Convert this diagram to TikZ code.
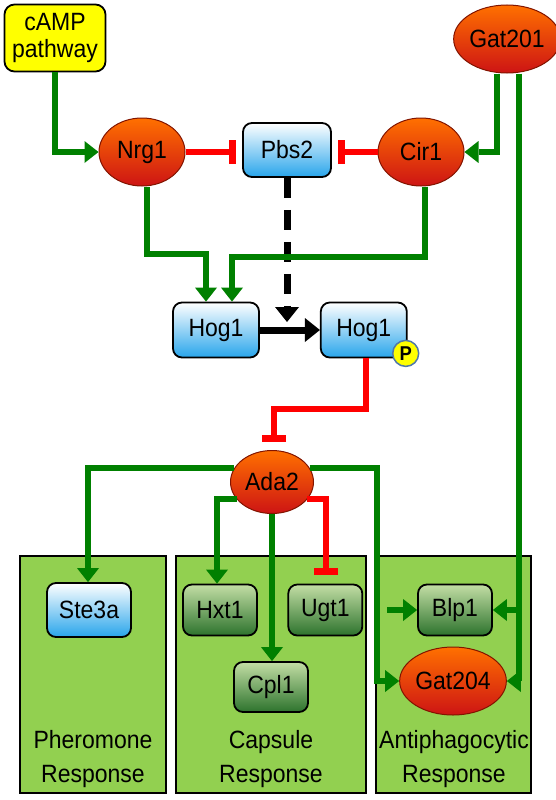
\documentclass[tikz,border=0pt]{standalone}
\usepackage{fontspec}
\setmainfont{Liberation Sans}[FakeStretch=0.92]
\usepackage{tikz}
\usetikzlibrary{shapes,arrows.meta,positioning,calc}
\newcommand{\lbl}{\fontsize{25}{27}\selectfont}
\definecolor{actgreen}{RGB}{0,128,0}
\definecolor{inhred}{RGB}{255,0,0}
\definecolor{ovaltop}{RGB}{255,112,0}
\definecolor{ovalbot}{RGB}{205,20,20}
\definecolor{ovalline}{RGB}{130,20,0}
\definecolor{kinbot}{RGB}{40,165,235}
\definecolor{genetop}{RGB}{195,222,165}
\definecolor{genebot}{RGB}{45,115,45}
\definecolor{panelgreen}{RGB}{146,208,80}
\definecolor{pblue}{RGB}{80,120,170}
\definecolor{campyellow}{RGB}{255,255,0}
\tikzstyle{factor} = [ellipse, draw=ovalline, line width=1pt, top color=ovaltop, bottom color=ovalbot, minimum width=86pt, minimum height=68pt, inner sep=0pt, font=\lbl]
\tikzstyle{kinase} = [rectangle, rounded corners=9pt, draw=black, line width=1.8pt, top color=white, bottom color=kinbot, minimum width=86pt, minimum height=55pt, inner sep=0pt, font=\lbl]
\tikzstyle{gene} = [rectangle, rounded corners=9pt, draw=black, line width=1.8pt, top color=genetop, bottom color=genebot, minimum width=74pt, minimum height=51pt, inner sep=0pt, font=\lbl]
\tikzstyle{signal} = [rectangle, rounded corners=10pt, draw=black, line width=1.8pt, fill=campyellow, minimum width=101pt, minimum height=67pt, inner sep=0pt, align=center, font=\lbl]
\tikzstyle{pmark} = [circle, draw=pblue, line width=1.5pt, fill=campyellow, minimum size=26pt, inner sep=0pt, font=\fontsize{20}{20}\selectfont\bfseries]
\tikzstyle{panel} = [rectangle, draw=black, line width=1.5pt, fill=panelgreen]
\tikzstyle{textonly} = [draw=none, fill=none, inner sep=0pt, font=\lbl]
\tikzstyle{act} = [draw=actgreen, line width=6pt, -{Triangle[length=14pt, width=22pt, line width=0pt]}]
\tikzstyle{inh} = [draw=inhred, line width=6pt, -{Bar[width=24pt, line width=7pt]}]
\tikzstyle{phos} = [draw=black, line width=7pt, -{Triangle[length=15pt, width=24pt, line width=0pt]}]

\begin{document}
\begin{tikzpicture}[x=1pt, y=-1pt]
\useasboundingbox (0,0) rectangle (556,800);

% response panels ==========================
\node[panel, minimum width=146pt, minimum height=237pt] (pherbox) at (93,674.5) {};
\node[panel, minimum width=190pt, minimum height=237pt] (capbox) at (271,674.5) {};
\node[panel, minimum width=155pt, minimum height=237pt] (antibox) at (453.5,674.5) {};

\node[textonly, anchor=base] (pher1) at (93,748) {Pheromone};
\node[textonly, anchor=base] (pher2) at ([yshift=-34pt]pher1.base) {Response};
\node[textonly, anchor=base] (cap1) at (271,748) {Capsule};
\node[textonly, anchor=base] (cap2) at ([yshift=-34pt]cap1.base) {Response};
\node[textonly, anchor=base] (anti1) at (454,748) {Antiphagocytic};
\node[textonly, anchor=base] (anti2) at ([yshift=-34pt]anti1.base) {Response};

% upstream nodes ===========================
\node[signal] (cAMP) at (55,38) {cAMP\\pathway};
\node[factor] (Gat201) at (507,39) {Gat201};
\node[factor] (Nrg1) at (142,152) {Nrg1};
\node[kinase, minimum width=88pt, minimum height=54pt] (Pbs2) at (287,150) {Pbs2};
\node[factor] (Cir1) at (421,152) {Cir1};

% Hog1 and Ada2
\node[kinase] (Hog1) at (216,330) {Hog1};
\node[kinase, right=60pt of Hog1] (Hog1P) {Hog1};
\node[pmark] (P) at ([xshift=-2pt,yshift=5pt]Hog1P.south east) {P};
\node[factor, minimum width=83pt, minimum height=63pt] (Ada2) at (272,482) {Ada2};

% targets
\node[kinase, minimum width=84pt, minimum height=54pt] (Ste3a) at (89,610) {Ste3a};
\node[gene] (Hxt1) at (220,610) {Hxt1};
\node[gene, right=29.5pt of Hxt1] (Ugt1) {Ugt1};
\node[gene, minimum height=50pt] (Cpl1) at (271,687) {Cpl1};
\node[gene] (Blp1) at (455,610) {Blp1};
\node[factor] (Gat204) at (453,681) {Gat204};

% edges on the top =========================
\draw[act] (cAMP.south) |- (Nrg1.west);
\draw[act] ([xshift=-10pt]Gat201.south) |- (Cir1.east);
\draw[inh, shorten >=6pt] (Nrg1.east) -- (Nrg1.east -| Pbs2.west);
\draw[inh, shorten >=6pt] (Cir1.west) -- (Cir1.west -| Pbs2.east);

\coordinate (hmid) at ($(Hog1.east)!0.5!(Hog1P.west)$);
\draw[phos, dash pattern=on 20pt off 12pt, shorten >=8pt] (Pbs2.south) -- (Pbs2.south |- hmid);
\draw[phos] (Hog1) -- (Hog1P);

\draw[act] ([xshift=5pt]Nrg1.south) |- ([xshift=-10pt,yshift=48pt]Hog1.north) -- ([xshift=-10pt]Hog1.north);
\draw[act] ([xshift=4pt]Cir1.south) |- ([xshift=16pt,yshift=45pt]Hog1.north) -- ([xshift=16pt]Hog1.north);

\draw[inh, shorten >=8pt] ([xshift=2pt]Hog1P.south) |- ([xshift=2pt,yshift=41pt]Ada2.north) -- ([xshift=2pt]Ada2.north);

% edges on the bottom ======================
\draw[act] (Ada2.159) -| ([xshift=-1pt]Ste3a.north);
\draw[act] (Ada2.206) -| ([xshift=-3pt]Hxt1.north);
\draw[act] (Ada2) -- (Ada2 |- Cpl1.north);
\draw[inh, shorten >=9pt] (Ada2.-26) -| ([xshift=1pt]Ugt1.north);
\draw[act] (Ada2.21) -| ([xshift=-22.5pt]Gat204.west) -- (Gat204.west);
\draw[act] ([xshift=-30pt]Blp1.west) -- (Blp1.west);

\draw[act] ([xshift=12pt]Gat201.south) |- (Gat204.east);
\draw[act] ([xshift=27pt]Blp1.east) -- (Blp1.east);

\end{tikzpicture}
\end{document}
